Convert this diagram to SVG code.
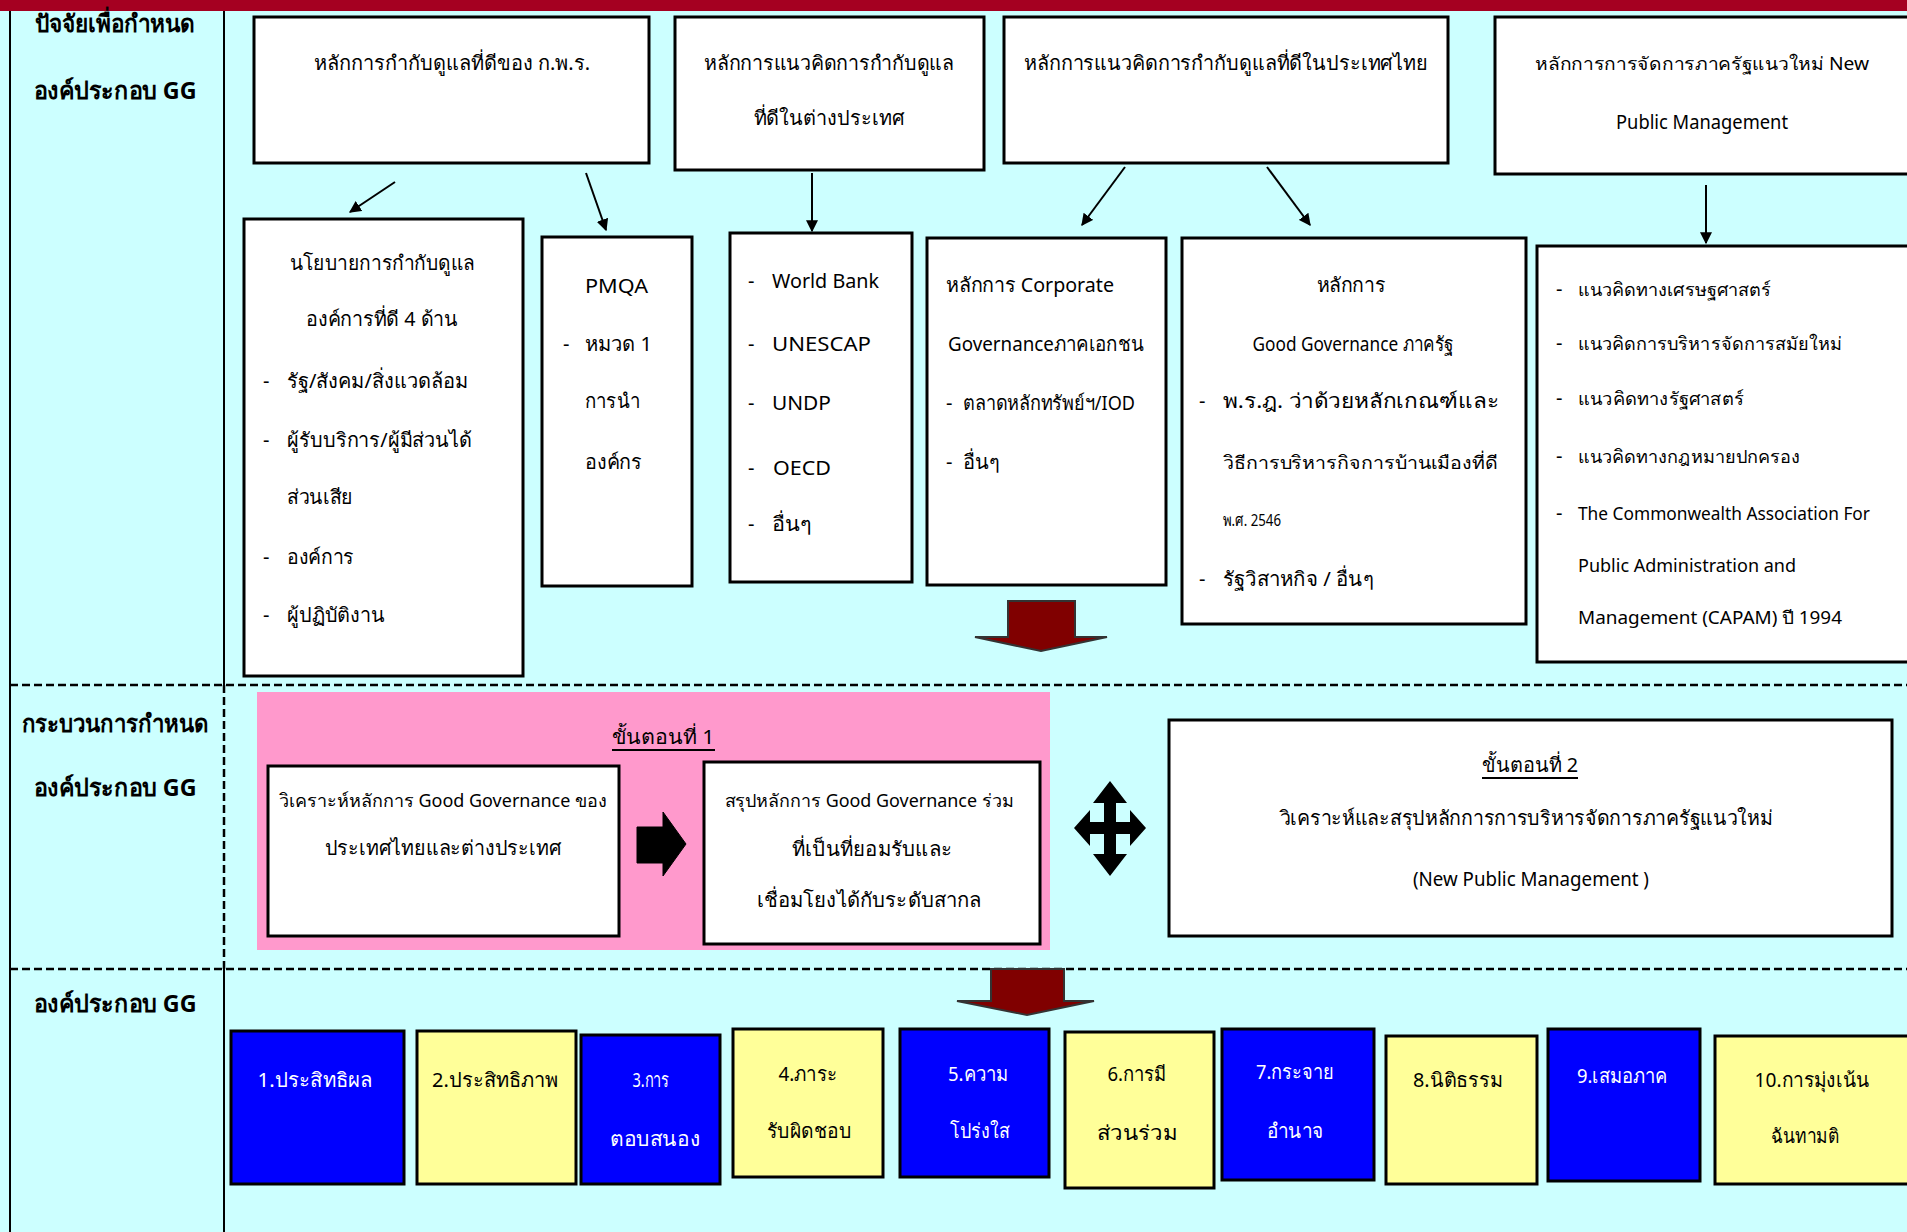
<svg xmlns="http://www.w3.org/2000/svg" width="1907" height="1232" viewBox="0 0 1907 1232">
<style>
text{font-family:"Noto Sans","DejaVu Sans",sans-serif;font-size:20px;fill:#000}
.lbl{font-size:24px;font-weight:bold}
.c{text-anchor:middle}
.w{fill:#fff}
.sm{font-size:18px}
.box{fill:#fff;stroke:#000;stroke-width:3}
.blue{fill:#0000FF;stroke:#000;stroke-width:3}
.yel{fill:#FFFF99;stroke:#000;stroke-width:3}
.ln{stroke:#000;stroke-width:2;fill:none}
.dash{stroke:#000;stroke-width:2.5;stroke-dasharray:8 4;fill:none}
.con{stroke:#000;stroke-width:2;fill:none;marker-end:url(#ah)}
.blk{fill:#800000;stroke:#333;stroke-width:2}
</style>
<defs>
<marker id="ah" viewBox="0 0 10 10" refX="9" refY="5" markerWidth="6" markerHeight="6" orient="auto"><path d="M0,0 L10,5 L0,10 z" fill="#000"/></marker>
</defs>
<rect x="0" y="0" width="1907" height="1232" fill="#CCFFFF"/>
<rect x="0" y="0" width="1907" height="11" fill="#A50021"/>
<g id="frame">
<line class="ln" x1="10" y1="11" x2="10" y2="1232"/>
<line class="ln" x1="224" y1="11" x2="224" y2="685"/>
<line class="dash" x1="224" y1="685" x2="224" y2="969"/>
<line class="ln" x1="224" y1="969" x2="224" y2="1232"/>
<line class="dash" x1="10" y1="685" x2="1907" y2="685"/>
<line class="dash" x1="10" y1="969" x2="1907" y2="969"/>
</g>
<g id="labels">
<text class="lbl c" x="115" y="32" textLength="161" lengthAdjust="spacingAndGlyphs">ปัจจัยเพื่อกำหนด</text>
<text class="lbl c" x="115" y="99" textLength="163" lengthAdjust="spacingAndGlyphs">องค์ประกอบ GG</text>
<text class="lbl c" x="115" y="732" textLength="187" lengthAdjust="spacingAndGlyphs">กระบวนการกำหนด</text>
<text class="lbl c" x="115" y="796" textLength="163" lengthAdjust="spacingAndGlyphs">องค์ประกอบ GG</text>
<text class="lbl c" x="115" y="1012" textLength="163" lengthAdjust="spacingAndGlyphs">องค์ประกอบ GG</text>
</g>
<g id="top1"><rect class="box" x="254" y="17" width="395" height="146"/>
<text class="c" x="452" y="70" textLength="276" lengthAdjust="spacingAndGlyphs">หลักการกำกับดูแลที่ดีของ ก.พ.ร.</text></g>
<g id="top2"><rect class="box" x="675" y="17" width="309" height="153"/>
<text class="c" x="829" y="70" textLength="250" lengthAdjust="spacingAndGlyphs">หลักการแนวคิดการกำกับดูแล</text>
<text class="c" x="829" y="125" textLength="151" lengthAdjust="spacingAndGlyphs">ที่ดีในต่างประเทศ</text></g>
<g id="top3"><rect class="box" x="1004" y="17" width="444" height="146"/>
<text class="c" x="1226" y="70" textLength="404" lengthAdjust="spacingAndGlyphs">หลักการแนวคิดการกำกับดูแลที่ดีในประเทศไทย</text></g>
<g id="top4"><rect class="box" x="1495" y="17" width="420" height="157"/>
<text class="c sm" x="1702" y="70" textLength="334" lengthAdjust="spacingAndGlyphs">หลักการการจัดการภาครัฐแนวใหม่ New</text>
<text class="c" x="1702" y="129" textLength="172" lengthAdjust="spacingAndGlyphs">Public Management</text></g>

<g id="connectors">
<line class="con" x1="395" y1="182" x2="350" y2="212"/>
<line class="con" x1="586" y1="173" x2="606" y2="230"/>
<line class="con" x1="812" y1="173" x2="812" y2="231"/>
<line class="con" x1="1125" y1="167" x2="1082" y2="225"/>
<line class="con" x1="1267" y1="167" x2="1310" y2="225"/>
<line class="con" x1="1706" y1="185" x2="1706" y2="243"/>
</g>

<g id="boxA"><rect class="box" x="244" y="219" width="279" height="457"/>
<text class="c" x="382" y="270" textLength="185" lengthAdjust="spacingAndGlyphs">นโยบายการกำกับดูแล</text>
<text class="c" x="382" y="326" textLength="152" lengthAdjust="spacingAndGlyphs">องค์การที่ดี 4 ด้าน</text>
<text x="263" y="388">-</text><text x="287" y="388" textLength="181" lengthAdjust="spacingAndGlyphs">รัฐ/สังคม/สิ่งแวดล้อม</text>
<text x="263" y="447">-</text><text x="287" y="447" textLength="185" lengthAdjust="spacingAndGlyphs">ผู้รับบริการ/ผู้มีส่วนได้</text>
<text x="287" y="504" textLength="66" lengthAdjust="spacingAndGlyphs">ส่วนเสีย</text>
<text x="263" y="564">-</text><text x="287" y="564" textLength="67" lengthAdjust="spacingAndGlyphs">องค์การ</text>
<text x="263" y="622">-</text><text x="287" y="622" textLength="98" lengthAdjust="spacingAndGlyphs">ผู้ปฏิบัติงาน</text></g>

<g id="boxB"><rect class="box" x="542" y="237" width="150" height="349"/>
<text x="585" y="293" textLength="63" lengthAdjust="spacingAndGlyphs">PMQA</text>
<text x="563" y="351">-</text><text x="585" y="351" textLength="67" lengthAdjust="spacingAndGlyphs">หมวด 1</text>
<text x="585" y="408" textLength="55" lengthAdjust="spacingAndGlyphs">การนำ</text>
<text x="585" y="469" textLength="57" lengthAdjust="spacingAndGlyphs">องค์กร</text></g>

<g id="boxC"><rect class="box" x="730" y="233" width="182" height="349"/>
<text x="748" y="288">-</text><text x="772" y="288" textLength="107" lengthAdjust="spacingAndGlyphs">World Bank</text>
<text x="748" y="351">-</text><text x="772" y="351" textLength="99" lengthAdjust="spacingAndGlyphs">UNESCAP</text>
<text x="748" y="410">-</text><text x="772" y="410" textLength="59" lengthAdjust="spacingAndGlyphs">UNDP</text>
<text x="748" y="475">-</text><text x="773" y="475" textLength="58" lengthAdjust="spacingAndGlyphs">OECD</text>
<text x="748" y="531">-</text><text x="772" y="531" textLength="40" lengthAdjust="spacingAndGlyphs">อื่นๆ</text></g>

<g id="boxD"><rect class="box" x="927" y="238" width="239" height="347"/>
<text x="946" y="292" textLength="168" lengthAdjust="spacingAndGlyphs">หลักการ Corporate</text>
<text x="948" y="351" textLength="196" lengthAdjust="spacingAndGlyphs">Governanceภาคเอกชน</text>
<text x="946" y="410">-</text><text x="963" y="410" textLength="172" lengthAdjust="spacingAndGlyphs">ตลาดหลักทรัพย์ฯ/IOD</text>
<text x="946" y="469">-</text><text x="963" y="469" textLength="37" lengthAdjust="spacingAndGlyphs">อื่นๆ</text></g>

<g id="boxE"><rect class="box" x="1182" y="238" width="344" height="386"/>
<text class="c" x="1351" y="292" textLength="69" lengthAdjust="spacingAndGlyphs">หลักการ</text>
<text class="c" x="1353" y="351" textLength="201" lengthAdjust="spacingAndGlyphs">Good Governance ภาครัฐ</text>
<text x="1199" y="408">-</text><text x="1223" y="408" textLength="276" lengthAdjust="spacingAndGlyphs">พ.ร.ฎ. ว่าด้วยหลักเกณฑ์และ</text>
<text x="1223" y="469" class="sm" textLength="275" lengthAdjust="spacingAndGlyphs">วิธีการบริหารกิจการบ้านเมืองที่ดี</text>
<text x="1223" y="526" style="font-size:17px" textLength="58" lengthAdjust="spacingAndGlyphs">พ.ศ. 2546</text>
<text x="1199" y="586">-</text><text x="1223" y="586" textLength="151" lengthAdjust="spacingAndGlyphs">รัฐวิสาหกิจ / อื่นๆ</text></g>

<g id="boxF"><rect class="box" x="1537" y="246" width="380" height="416"/>
<text x="1556" y="296">-</text><text x="1578" y="296" class="sm" textLength="193" lengthAdjust="spacingAndGlyphs">แนวคิดทางเศรษฐศาสตร์</text>
<text x="1556" y="350">-</text><text x="1578" y="350" class="sm" textLength="264" lengthAdjust="spacingAndGlyphs">แนวคิดการบริหารจัดการสมัยใหม่</text>
<text x="1556" y="405">-</text><text x="1578" y="405" class="sm" textLength="166" lengthAdjust="spacingAndGlyphs">แนวคิดทางรัฐศาสตร์</text>
<text x="1556" y="463">-</text><text x="1578" y="463" class="sm" textLength="222" lengthAdjust="spacingAndGlyphs">แนวคิดทางกฎหมายปกครอง</text>
<text x="1556" y="520">-</text><text x="1578" y="520" class="sm" textLength="292" lengthAdjust="spacingAndGlyphs">The Commonwealth Association For</text>
<text x="1578" y="572" class="sm" textLength="218" lengthAdjust="spacingAndGlyphs">Public Administration and</text>
<text x="1578" y="624" class="sm" textLength="264" lengthAdjust="spacingAndGlyphs">Management (CAPAM) ปี 1994</text></g>

<g id="arrowDown1"><polygon class="blk" points="1008,601 1075,601 1075,637 1107,637 1041,651 975,637 1008,637"/></g>

<g id="step1"><rect x="257" y="692" width="793" height="258" fill="#FF99CC"/>
<text class="c" x="663" y="744" textLength="103" lengthAdjust="spacingAndGlyphs">ขั้นตอนที่ 1</text>
<line x1="612" y1="750" x2="715" y2="750" stroke="#000" stroke-width="2"/></g>
<g id="analyze"><rect class="box" x="268" y="766" width="351" height="170"/>
<text class="c sm" x="443" y="807" textLength="328" lengthAdjust="spacingAndGlyphs">วิเคราะห์หลักการ Good Governance ของ</text>
<text class="c" x="443" y="855" textLength="237" lengthAdjust="spacingAndGlyphs">ประเทศไทยและต่างประเทศ</text></g>
<g id="arrowRight"><polygon fill="#000" stroke="#000" stroke-width="1" points="637,827 663,827 663,812 686,844 663,876 663,863 637,863"/></g>
<g id="summary"><rect class="box" x="704" y="762" width="336" height="182"/>
<text class="c sm" x="869" y="807" textLength="289" lengthAdjust="spacingAndGlyphs">สรุปหลักการ Good Governance ร่วม</text>
<text class="c" x="872" y="856" textLength="160" lengthAdjust="spacingAndGlyphs">ที่เป็นที่ยอมรับและ</text>
<text class="c" x="869" y="907" textLength="225" lengthAdjust="spacingAndGlyphs">เชื่อมโยงได้กับระดับสากล</text></g>
<g id="crossArrow"><polygon fill="#000" points="1110,781 1127,803 1116,803 1116,822 1130,822 1130,810 1146,828 1130,846 1130,834 1116,834 1116,854 1127,854 1110,876 1093,854 1104,854 1104,834 1090,834 1090,846 1074,828 1090,810 1090,822 1104,822 1104,803 1093,803"/></g>
<g id="step2"><rect class="box" x="1169" y="720" width="723" height="216"/>
<text class="c" x="1530" y="772" textLength="96" lengthAdjust="spacingAndGlyphs">ขั้นตอนที่ 2</text>
<line x1="1482" y1="778" x2="1578" y2="778" stroke="#000" stroke-width="2"/>
<text class="c" x="1526" y="825" textLength="493" lengthAdjust="spacingAndGlyphs">วิเคราะห์และสรุปหลักการการบริหารจัดการภาครัฐแนวใหม่</text>
<text class="c" x="1531" y="886" textLength="236" lengthAdjust="spacingAndGlyphs">(New Public Management )</text></g>

<g id="arrowDown2"><polygon class="blk" points="991,969 1064,969 1064,1001 1094,1001 1027,1015 957,1001 991,1001"/></g>

<g id="gg1"><rect class="blue" x="231" y="1031" width="173" height="153"/><text class="c w" x="315" y="1087" textLength="115" lengthAdjust="spacingAndGlyphs">1.ประสิทธิผล</text></g>
<g id="gg2"><rect class="yel" x="417" y="1031" width="159" height="153"/><text class="c" x="495" y="1087" textLength="126" lengthAdjust="spacingAndGlyphs">2.ประสิทธิภาพ</text></g>
<g id="gg3"><rect class="blue" x="581" y="1035" width="139" height="149"/><text class="c w" x="651" y="1087" textLength="37" lengthAdjust="spacingAndGlyphs">3.การ</text><text class="c w" x="655" y="1146" textLength="90" lengthAdjust="spacingAndGlyphs">ตอบสนอง</text></g>
<g id="gg4"><rect class="yel" x="733" y="1029" width="150" height="148"/><text class="c" x="808" y="1081" textLength="59" lengthAdjust="spacingAndGlyphs">4.ภาระ</text><text class="c" x="809" y="1138" textLength="85" lengthAdjust="spacingAndGlyphs">รับผิดชอบ</text></g>
<g id="gg5"><rect class="blue" x="900" y="1029" width="149" height="148"/><text class="c w" x="978" y="1081" textLength="60" lengthAdjust="spacingAndGlyphs">5.ความ</text><text class="c w" x="980" y="1138" textLength="60" lengthAdjust="spacingAndGlyphs">โปร่งใส</text></g>
<g id="gg6"><rect class="yel" x="1065" y="1032" width="149" height="156"/><text class="c" x="1137" y="1081" textLength="59" lengthAdjust="spacingAndGlyphs">6.การมี</text><text class="c" x="1137" y="1140" textLength="80" lengthAdjust="spacingAndGlyphs">ส่วนร่วม</text></g>
<g id="gg7"><rect class="blue" x="1222" y="1029" width="152" height="151"/><text class="c w" x="1295" y="1079" textLength="78" lengthAdjust="spacingAndGlyphs">7.กระจาย</text><text class="c w" x="1295" y="1138" textLength="57" lengthAdjust="spacingAndGlyphs">อำนาจ</text></g>
<g id="gg8"><rect class="yel" x="1386" y="1036" width="151" height="148"/><text class="c" x="1458" y="1087" textLength="90" lengthAdjust="spacingAndGlyphs">8.นิติธรรม</text></g>
<g id="gg9"><rect class="blue" x="1548" y="1029" width="152" height="152"/><text class="c w" x="1622" y="1083" textLength="90" lengthAdjust="spacingAndGlyphs">9.เสมอภาค</text></g>
<g id="gg10"><rect class="yel" x="1715" y="1036" width="200" height="148"/><text class="c" x="1812" y="1087" textLength="115" lengthAdjust="spacingAndGlyphs">10.การมุ่งเน้น</text><text class="c" x="1805" y="1143" textLength="68" lengthAdjust="spacingAndGlyphs">ฉันทามติ</text></g>
</svg>
